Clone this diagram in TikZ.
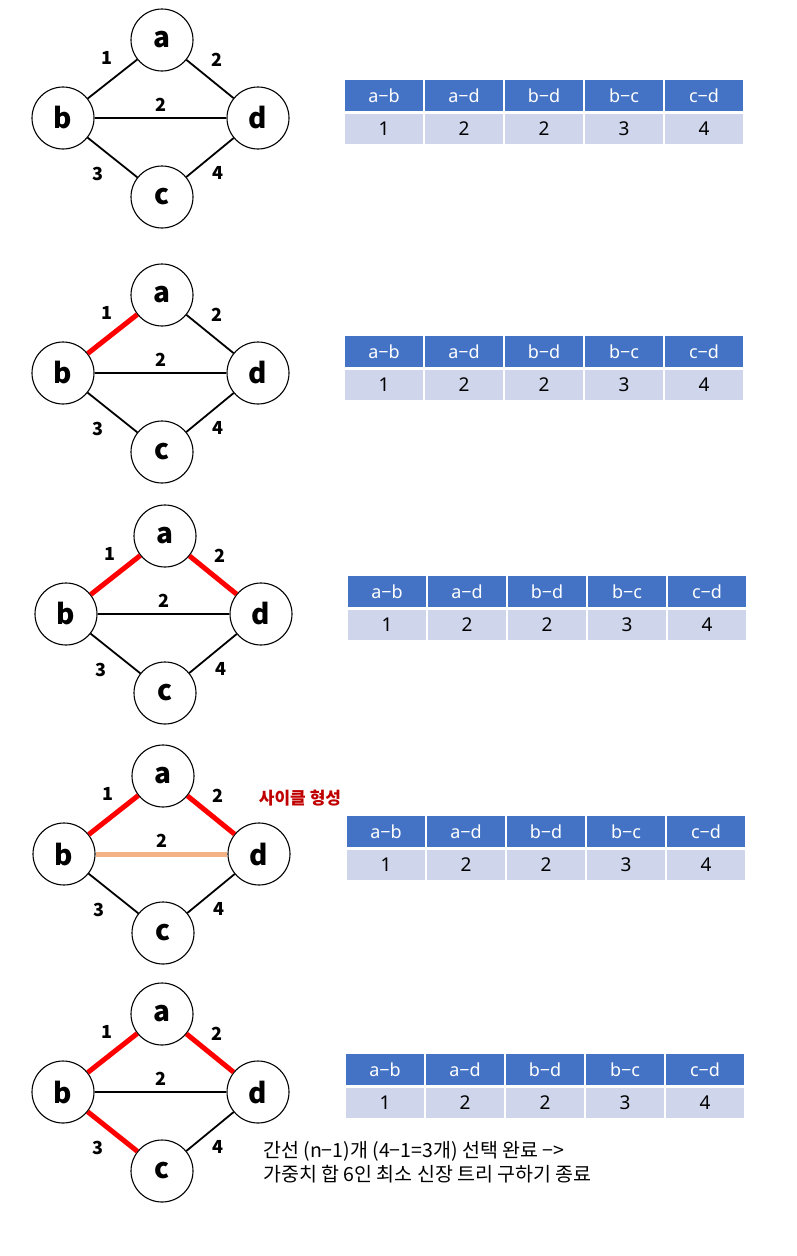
\documentclass[tikz,border=0pt]{standalone}
\usepackage{fontspec}
\setmainfont{Noto Sans CJK KR}
\newfontfamily\latinfont{Noto Sans}
\begin{document}
\definecolor{mstred}{HTML}{FF0000}
\definecolor{cycleorange}{HTML}{F4B183}
\definecolor{headblue}{HTML}{4472C4}
\definecolor{rowgrey}{HTML}{CFD5EA}
\definecolor{notered}{HTML}{C00000}
\tikzset{
  vertex/.style={circle, draw=black, line width=1.1pt, fill=white, minimum size=62pt, inner sep=0pt,
                 font=\fontsize{28}{28}\selectfont\bfseries},
  wlabel/.style={font=\fontsize{18}{18}\selectfont\bfseries, inner sep=0pt},
  plain/.style={draw=black, line width=1.8pt},
  chosen/.style={draw=mstred, line width=5pt},
  cycle/.style={draw=cycleorange, line width=5pt},
  hcell/.style={rectangle, fill=headblue, draw=white, line width=1.5pt, minimum width=80pt, minimum height=33pt,
                inner sep=0pt, text=white, font=\latinfont\fontsize{18}{18}\selectfont},
  dcell/.style={rectangle, fill=rowgrey, draw=white, line width=1.5pt, minimum width=80pt, minimum height=32pt,
                inner sep=0pt, text=black, font=\latinfont\fontsize{19}{19}\selectfont},
}
% one graph: #1 id, #2/#3 offset, #4..#8 styles of edges ab, ad, bd, bc, cd
\newcommand{\graphpanel}[8]{%
  \begin{scope}[shift={(#2,#3)}]
    \node[vertex] (a#1) at (162,40) {a};
    \node[vertex] (b#1) at (63,118) {b};
    \node[vertex] (d#1) at (258,118) {d};
    \node[vertex] (c#1) at (162,197) {c};
    \draw[#4] (a#1) -- (b#1);
    \draw[#5] (a#1) -- (d#1);
    \draw[#6] (b#1) -- (d#1);
    \draw[#7] (b#1) -- (c#1);
    \draw[#8] (c#1) -- (d#1);
    \node[wlabel] (wab#1) at (107,58) {1};
    \node[wlabel] (wad#1) at (217,60) {2};
    \node[wlabel] (wbd#1) at (161,105) {2};
    \node[wlabel] (wbc#1) at (98,174) {3};
    \node[wlabel] (wcd#1) at (218,173) {4};
  \end{scope}}
% one edge table: #1 id, #2/#3 top-left corner
\newcommand{\edgetable}[3]{%
  \begin{scope}[shift={(#2,#3)}]
    \node[hcell] (h#1a) at (40,16.5) {a−b};
    \node[hcell] (h#1b) at (120,16.5) {a−d};
    \node[hcell] (h#1c) at (200,16.5) {b−d};
    \node[hcell] (h#1d) at (280,16.5) {b−c};
    \node[hcell] (h#1e) at (360,16.5) {c−d};
    \node[dcell] (r#1a) at (40,50) {1};
    \node[dcell] (r#1b) at (120,50) {2};
    \node[dcell] (r#1c) at (200,50) {2};
    \node[dcell] (r#1d) at (280,50) {3};
    \node[dcell] (r#1e) at (360,50) {4};
  \end{scope}}
\begin{tikzpicture}[x=1pt,y=-1pt]
  \useasboundingbox (0,0) rectangle (796,1256);
  \fill[white] (0,0) rectangle (796,1256);

  \graphpanel{1}{0}{0}{plain}{plain}{plain}{plain}{plain}
  \edgetable{1}{344}{79}

  \graphpanel{2}{0}{255}{chosen}{plain}{plain}{plain}{plain}
  \edgetable{2}{344}{335}

  \graphpanel{3}{3}{496}{chosen}{chosen}{plain}{plain}{plain}
  \edgetable{3}{347}{575}

  \graphpanel{4}{1}{736}{chosen}{chosen}{cycle}{plain}{plain}
  \edgetable{4}{346}{815}
  \node[text=notered, font=\fontsize{17}{17}\selectfont\bfseries, inner sep=0pt] (cyclenote) at (300,798.5) {사이클 형성};

  \graphpanel{5}{0}{974}{chosen}{chosen}{plain}{chosen}{plain}
  \edgetable{5}{345}{1053}
  \node[anchor=north west, align=left, inner sep=0pt, font=\fontsize{19.5}{24}\selectfont] (summary) at (263,1141)
    {간선 (n−1)개 (4−1=3개) 선택 완료 −>\\가중치 합 6인 최소 신장 트리 구하기 종료};
\end{tikzpicture}
\end{document}
